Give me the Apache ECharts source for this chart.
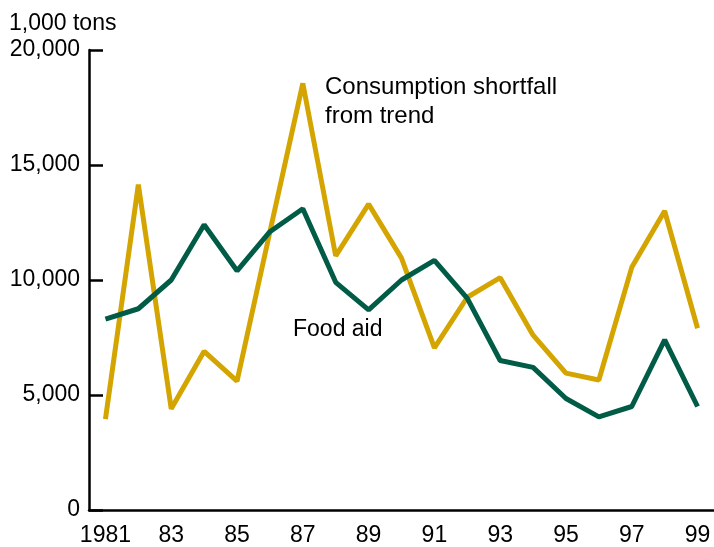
<!DOCTYPE html>
<html>
<head>
<meta charset="utf-8">
<script src="https://cdn.jsdelivr.net/npm/echarts@6/dist/echarts.min.js"></script>
<style>
  html, body { margin: 0; padding: 0; background: #fff; }
  #main { width: 714px; height: 547px; }
</style>
</head>
<body>
<div id="main"></div>
<script>
var chartDom = document.getElementById('main');
var myChart = echarts.init(chartDom);
var option;

// years on the x axis
let years = ['1981','1982','1983','1984','1985','1986','1987','1988','1989','1990',
             '1991','1992','1993','1994','1995','1996','1997','1998','1999'];
// labels shown under the ticks (every other year)
let xLabels = ['1981','','83','','85','','87','','89','','91','','93','','95','','97','','99'];
// 1,000 tons
let shortfall = [3950,14150,4400,6900,5600,12100,18550,11050,13300,10950,
                 7050,9250,10100,7600,5950,5650,10550,13000,7900];
let foodAid = [8300,8750,10000,12400,10400,12100,13100,9900,8700,10000,
               10850,9200,6500,6200,4850,4050,4500,7400,4500];

let font = 'Liberation Sans, Arial, sans-serif';

option = {
  animation: false,
  grid: {
    left: 89,
    top: 50,
    width: 627,
    bottom: 36
  },
  xAxis: {
    type: 'category',
    data: years,
    boundaryGap: true,
    axisLine: { lineStyle: { color: '#000', width: 2.5 } },
    axisTick: {
      inside: true,
      alignWithLabel: true,
      interval: 0,
      length: 11,
      lineStyle: { color: '#000', width: 2.5 }
    },
    axisLabel: {
      interval: 0,
      margin: 14,
      color: '#000',
      fontSize: 23,
      fontFamily: font,
      formatter: function (value, index) {
        return xLabels[index];
      }
    },
    splitLine: { show: false }
  },
  yAxis: {
    type: 'value',
    min: 0,
    max: 20000,
    interval: 5000,
    axisLine: { show: true, lineStyle: { color: '#000', width: 2.5 } },
    axisTick: {
      show: true,
      inside: true,
      length: 14,
      lineStyle: { color: '#000', width: 2.5 }
    },
    axisLabel: {
      margin: 9,
      color: '#000',
      fontSize: 23,
      fontFamily: font
    },
    splitLine: { show: false }
  },
  graphic: [
    {
      type: 'text',
      left: 9,
      top: 12,
      style: { text: '1,000 tons', fill: '#000', font: '23px ' + font }
    },
    {
      type: 'text',
      left: 325,
      top: 73,
      style: {
        text: 'Consumption shortfall\nfrom trend',
        fill: '#000',
        font: '24px ' + font,
        lineHeight: 29
      }
    },
    {
      type: 'text',
      left: 293,
      top: 318,
      style: { text: 'Food aid', fill: '#000', font: '23px ' + font }
    }
  ],
  series: [
    {
      name: 'Consumption shortfall from trend',
      type: 'line',
      data: shortfall,
      symbol: 'none',
      lineStyle: { color: '#D4A500', width: 5 },
      z: 2
    },
    {
      name: 'Food aid',
      type: 'line',
      data: foodAid,
      symbol: 'none',
      lineStyle: { color: '#005C46', width: 5 },
      z: 3
    }
  ]
};

option && myChart.setOption(option);
</script>
</body>
</html>
